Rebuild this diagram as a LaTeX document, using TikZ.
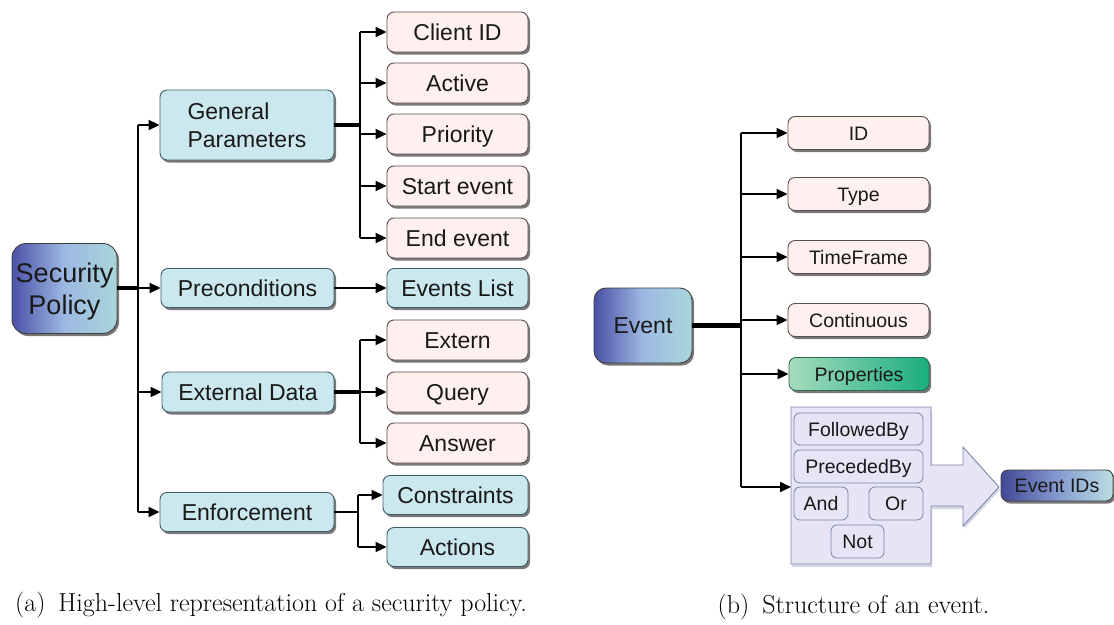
\documentclass[tikz,border=0pt]{standalone}
\usepackage{fontspec}
\newfontfamily\sansf{Liberation Sans}
\usetikzlibrary{arrows.meta,shadows}
\definecolor{pinkfill}{HTML}{FDF0EE}
\definecolor{pinkdraw}{HTML}{5B4E4C}
\definecolor{cyanfill}{HTML}{CBE8EF}
\definecolor{cyandraw}{HTML}{3E5F66}
\definecolor{deepblue}{HTML}{4B50A6}
\definecolor{midblue}{HTML}{9DB9E2}
\definecolor{paleteal}{HTML}{A9D6D9}
\definecolor{lavfill}{HTML}{E7E5F5}
\definecolor{lavdraw}{HTML}{7886A6}
\definecolor{greenL}{HTML}{A6DBBE}
\definecolor{greenR}{HTML}{19AE7E}
\definecolor{greendraw}{HTML}{2D6B52}
\begin{document}
\begin{tikzpicture}[x=1pt,y=-1pt,
  shad/.style={drop shadow={shadow xshift=2pt,shadow yshift=-2.5pt,fill=black!75,opacity=0.7}},
  box/.style={rectangle, rounded corners=7pt, line width=0.9pt, inner sep=0pt, shad, text=black!90},
  big/.style={font=\sansf\fontsize{23}{28}\selectfont, text height=16.5pt, text depth=0pt},
  small/.style={font=\sansf\fontsize{19.5}{23}\selectfont, text height=14pt, text depth=0pt},
  pinkbox/.style={box, big, draw=pinkdraw, fill=pinkfill, minimum width=141pt, minimum height=40pt},
  cyanbox/.style={box, big, draw=cyandraw, fill=cyanfill, minimum height=40pt},
  pinksm/.style={box, small, draw=pinkdraw, fill=pinkfill, minimum width=141pt, minimum height=33pt},
  opbox/.style={rectangle, rounded corners=6pt, line width=0.8pt, inner sep=0pt, small, draw=lavdraw, fill=lavfill, minimum height=33pt, text=black!90},
  gradbox/.style={box, draw=black!75, left color=deepblue, right color=paleteal, middle color=midblue},
  conn/.style={line width=2pt, black},
  arr/.style={conn, -{Triangle[length=11pt,width=10pt]}},
  thickconn/.style={line width=4pt, black},
  captxt/.style={font=\fontsize{26}{30}\selectfont, inner sep=0pt}
]
\useasboundingbox (0,0) rectangle (1114,624);
\fill[white] (0,0) rectangle (1114,624);

% ---------------- (a) ----------------
\node[gradbox, rounded corners=14pt, minimum width=105pt, minimum height=90pt,
      font=\sansf\fontsize{27}{32}\selectfont, text height=51.3pt, text depth=0pt, align=center] (sp) at (64.5,288.5) {Security\\Policy};

\node[cyanbox, minimum width=174pt, minimum height=70pt, font=\sansf\fontsize{23}{28}\selectfont, text height=44.5pt, text depth=0pt, align=left] (gp) at (247,125) {General\\Parameters};
\node[cyanbox, minimum width=173pt, minimum height=39pt] (pre) at (247.5,288) {Preconditions};
\node[cyanbox, minimum width=172pt] (ext) at (248,392) {External Data};
\node[cyanbox, minimum width=174pt, minimum height=39pt] (enf) at (247,512) {Enforcement};

\node[pinkbox] (cid) at (457.5,32) {Client ID};
\node[pinkbox] (act) at (457.5,83) {Active};
\node[pinkbox] (pri) at (457.5,134) {Priority};
\node[pinkbox] (sev) at (457.5,186) {Start event};
\node[pinkbox] (eev) at (457.5,238) {End event};
\node[cyanbox, minimum width=141pt, minimum height=39pt] (evl) at (457.5,288) {Events List};
\node[pinkbox] (extn) at (457.5,340) {Extern};
\node[pinkbox] (qry) at (457.5,392) {Query};
\node[pinkbox] (ans) at (457.5,443) {Answer};
\node[cyanbox, minimum width=145pt, minimum height=39pt] (con) at (455.5,495) {Constraints};
\node[cyanbox, minimum width=141pt, minimum height=39pt] (actn) at (457.5,547) {Actions};

\coordinate (tL) at (138,0);
\coordinate (tG) at (360,0);
\coordinate (tE) at (360,0);
\coordinate (tF) at (358,0);

\draw[conn] (gp.west -| tL) -- (enf.west -| tL);
\draw[thickconn] (sp.east |- pre.west) -- (pre.west -| tL);
\draw[arr] (gp.west -| tL) -- (gp.west);
\draw[arr] (pre.west -| tL) -- (pre.west);
\draw[arr] (ext.west -| tL) -- (ext.west);
\draw[arr] (enf.west -| tL) -- (enf.west);

\draw[thickconn] (gp.east) -- (gp.east -| tG);
\draw[conn] (cid.west -| tG) -- (eev.west -| tG);
\foreach \n in {cid,act,pri,sev,eev} \draw[arr] (\n.west -| tG) -- (\n.west);

\draw[arr] (pre.east) -- (evl.west);

\draw[thickconn] (ext.east) -- (ext.east -| tE);
\draw[conn] (extn.west -| tE) -- (ans.west -| tE);
\foreach \n in {extn,qry,ans} \draw[arr] (\n.west -| tE) -- (\n.west);

\draw[line width=2.6pt] (enf.east) -- (enf.east -| tF);
\draw[conn] (con.west -| tF) -- (actn.west -| tF);
\foreach \n in {con,actn} \draw[arr] (\n.west -| tF) -- (\n.west);

\node[captxt] (capa) at (271,605) {(a)\enspace High-level representation of a security policy.};

% ---------------- (b) ----------------
\node[gradbox, rounded corners=12pt, minimum width=98pt, minimum height=75pt, big] (ev) at (643,325.5) {Event};

\node[pinksm] (id) at (858.5,133) {ID};
\node[pinksm] (typ) at (858.5,194) {Type};
\node[pinksm] (tf) at (858.5,257) {TimeFrame};
\node[pinksm] (cont) at (858.5,320) {Continuous};
\node[box, small, draw=greendraw, left color=greenL, right color=greenR, minimum width=140pt, minimum height=33pt] (prop) at (859,374) {Properties};

% container with block arrow
\draw[draw=lavdraw, fill=lavfill, line width=0.9pt, line join=miter,
      drop shadow={shadow xshift=1pt,shadow yshift=-3pt,fill=blue!40!black!35,opacity=0.45}]
  (791,407) -- (931,407) -- (931,465) -- (963,465) -- (963,447) -- (999,487)
  -- (963,526) -- (963,506) -- (931,506) -- (931,564) -- (791,564) -- cycle;
\coordinate (cw) at (791,487);

\node[opbox, minimum width=129pt, minimum height=32pt] (fb) at (858.5,429) {FollowedBy};
\node[opbox, minimum width=129pt] (pb) at (858.5,466.5) {PrecededBy};
\node[opbox, minimum width=54pt] (and) at (821,503.5) {And};
\node[opbox, minimum width=54pt] (or) at (896,503.5) {Or};
\node[opbox, minimum width=53pt] (not) at (857.5,541.5) {Not};

\node[box, small, draw=black!75, left color=deepblue!90!black, right color=paleteal!80!white, middle color=midblue!70!deepblue, minimum width=112pt, minimum height=31pt] (eids) at (1057,485.5) {Event IDs};

\coordinate (tR) at (741,0);
\draw[conn] (id.west -| tR) -- (cw -| tR);
\draw[line width=4.5pt] (ev.east) -- (ev.east -| tR);
\foreach \n in {id,typ,tf,cont,prop} \draw[arr] (\n.west -| tR) -- (\n.west);
\draw[arr] (cw -| tR) -- (cw);

\node[captxt] (capb) at (853.5,607) {(b)\enspace Structure of an event.};
\end{tikzpicture}
\end{document}
